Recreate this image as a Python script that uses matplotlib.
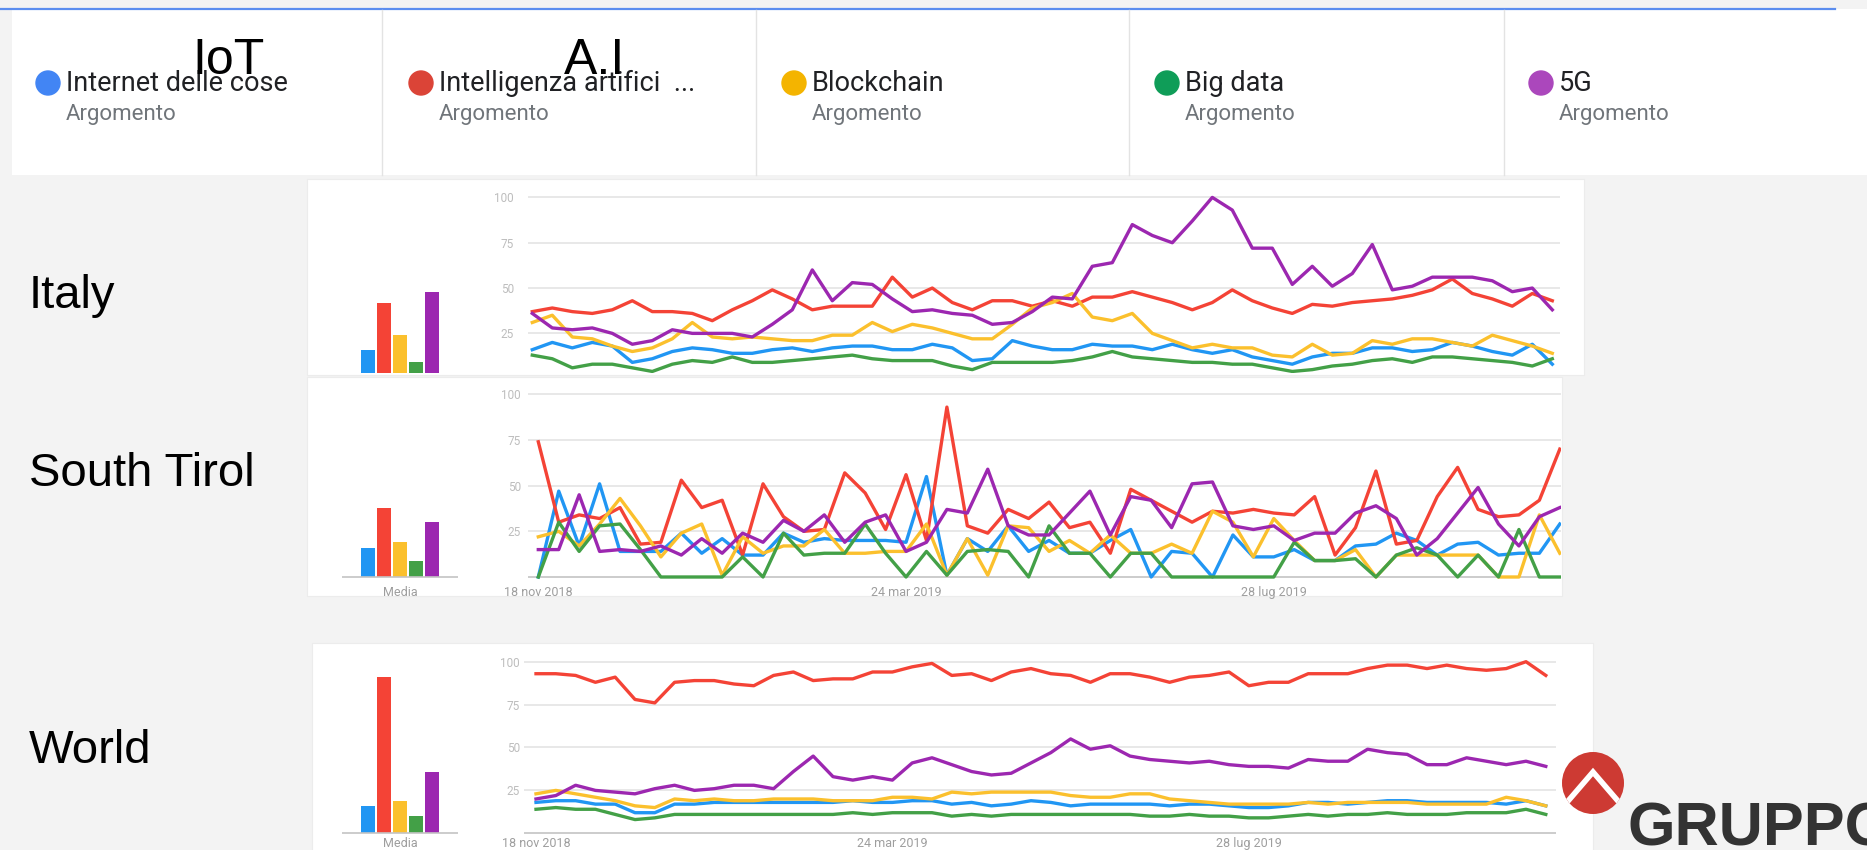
import matplotlib
matplotlib.use("Agg")
import matplotlib.pyplot as plt
from matplotlib.patches import Rectangle, Circle

W, H, DPI = 1867, 850, 100

# ---------------- data ----------------
topics = ["Internet delle cose", "Intelligenza artifici  ...", "Blockchain", "Big data", "5G"]
topic_kind = "Argomento"
legend_colors = ["#4285f4", "#db4437", "#f4b400", "#0f9d58", "#ab47bc"]
series_colors = ["#2196f3", "#f44336", "#fbc02d", "#43a047", "#9c27b0"]
regions = ["Italy", "South Tirol", "World"]
date_ticks = [0, 18, 36]
date_labels = ["18 nov 2018", "24 mar 2019", "28 lug 2019"]
y_ticks = [25, 50, 75, 100]
bar_label = "Media"

italy_iot = [16, 20, 17, 20, 18, 9, 11, 15, 17, 16, 14, 14, 16, 17, 15, 17, 18, 18, 16, 16, 19, 17, 10, 11, 21, 18,
             16, 16, 19, 18, 18, 16, 19, 16, 14, 16, 12, 10, 8, 12, 14, 14, 17, 17, 15, 16, 20, 18, 15, 13, 19, 8]
italy_ai = [37, 39, 37, 36, 38, 43, 37, 37, 36, 32, 38, 43, 49, 44, 38, 40, 40, 40, 56, 45, 50, 42, 38, 43, 43, 40,
            43, 40, 45, 45, 48, 45, 42, 38, 42, 49, 43, 39, 36, 41, 40, 42, 43, 44, 46, 49, 55, 47, 44, 40, 47, 43]
italy_blockchain = [31, 35, 23, 22, 18, 15, 17, 22, 31, 23, 22, 23, 22, 21, 21, 24, 24, 31, 26, 30, 28, 25, 22, 22, 30, 39,
                    42, 47, 34, 32, 36, 25, 21, 17, 19, 17, 17, 13, 12, 19, 13, 14, 21, 19, 22, 22, 20, 18, 24, 21, 18, 14]
italy_bigdata = [13, 11, 6, 8, 8, 6, 4, 8, 10, 9, 12, 9, 9, 10, 11, 12, 13, 11, 10, 10, 10, 7, 5, 9, 9, 9,
                 9, 10, 12, 15, 12, 11, 10, 9, 9, 8, 8, 6, 4, 5, 7, 8, 10, 11, 9, 12, 12, 11, 10, 9, 7, 11]
italy_5g = [36, 28, 27, 28, 25, 19, 21, 27, 25, 25, 25, 23, 30, 38, 60, 43, 53, 52, 44, 37, 38, 36, 35, 30, 31, 37,
            45, 44, 62, 64, 85, 79, 75, 87, 100, 93, 72, 72, 52, 62, 51, 58, 74, 49, 51, 56, 56, 56, 54, 48, 50, 38]
italy_avg = [16, 42, 24, 9, 48]

tirol_iot = [0, 47, 17, 51, 14, 14, 14, 24, 13, 21, 12, 12, 24, 19, 21, 20, 20, 20, 19, 55, 1, 21, 14, 28, 14,
             20, 13, 13, 20, 26, 0, 14, 13, 0, 23, 11, 11, 15, 9, 9, 17, 18, 24, 20, 12, 18, 19, 12, 13, 13, 29]
tirol_ai = [74, 30, 34, 32, 38, 18, 19, 53, 38, 42, 12, 51, 33, 25, 26, 57, 46, 26, 56, 20, 93, 28, 24, 37, 32,
            41, 27, 30, 13, 48, 42, 36, 30, 36, 35, 37, 35, 34, 44, 12, 27, 58, 18, 20, 44, 60, 37, 33, 34, 42, 70]
tirol_blockchain = [22, 25, 17, 29, 43, 28, 11, 24, 29, 1, 22, 13, 17, 17, 26, 13, 13, 14, 14, 29, 1, 21, 1, 28, 27,
                    14, 20, 13, 23, 13, 13, 18, 13, 36, 30, 11, 32, 20, 9, 9, 15, 0, 12, 12, 12, 12, 12, 0, 0, 34, 13]
tirol_bigdata = [0, 30, 14, 28, 29, 15, 0, 0, 0, 0, 11, 0, 24, 12, 13, 13, 29, 13, 0, 14, 1, 14, 15, 14, 0,
                 28, 13, 13, 0, 13, 13, 0, 0, 0, 0, 0, 0, 19, 9, 9, 10, 0, 12, 16, 12, 0, 12, 0, 26, 0, 0]
tirol_5g = [15, 15, 45, 14, 15, 14, 17, 12, 21, 13, 24, 19, 31, 25, 34, 19, 30, 34, 14, 19, 37, 35, 59, 28, 23,
            23, 35, 47, 23, 44, 42, 27, 51, 52, 28, 26, 28, 20, 24, 24, 35, 39, 32, 12, 21, 35, 49, 29, 17, 33, 38]
tirol_avg = [16, 38, 19, 9, 30]

world_iot = [18, 19, 19, 17, 17, 12, 12, 17, 17, 18, 18, 18, 18, 18, 18, 18, 19, 18, 18, 19, 19, 17, 18, 16, 17, 19,
             18, 16, 17, 17, 17, 17, 16, 17, 17, 16, 15, 15, 16, 18, 18, 17, 18, 19, 19, 18, 18, 18, 18, 17, 19, 16]
world_ai = [93, 93, 92, 88, 91, 78, 76, 88, 89, 89, 87, 86, 92, 94, 89, 90, 90, 94, 94, 97, 99, 92, 93, 89, 94, 96,
            93, 92, 88, 93, 93, 91, 88, 91, 92, 94, 86, 88, 88, 93, 93, 93, 96, 98, 98, 96, 98, 96, 95, 96, 100, 92]
world_blockchain = [23, 25, 23, 21, 19, 16, 15, 20, 19, 20, 19, 19, 20, 20, 20, 19, 19, 19, 21, 21, 20, 24, 23, 24, 24, 24,
                    24, 22, 21, 21, 23, 23, 20, 19, 18, 17, 17, 17, 17, 18, 17, 18, 18, 18, 18, 17, 17, 17, 17, 21, 19, 16]
world_bigdata = [14, 15, 14, 14, 11, 8, 9, 11, 11, 11, 11, 11, 11, 11, 11, 11, 12, 11, 12, 12, 12, 10, 11, 10, 11, 11,
                 11, 11, 11, 11, 11, 10, 10, 11, 10, 10, 9, 9, 10, 11, 10, 11, 11, 12, 11, 11, 11, 12, 12, 12, 14, 11]
world_5g = [20, 22, 28, 25, 24, 23, 26, 28, 25, 26, 28, 28, 26, 36, 45, 33, 31, 33, 31, 41, 44, 40, 36, 34, 35, 41,
            47, 55, 49, 51, 45, 43, 42, 41, 42, 40, 39, 39, 38, 43, 42, 42, 49, 47, 46, 40, 40, 44, 42, 40, 42, 39]
world_avg = [16, 91, 19, 10, 36]

italy_series = [italy_iot, italy_ai, italy_blockchain, italy_bigdata, italy_5g]
tirol_series = [tirol_iot, tirol_ai, tirol_blockchain, tirol_bigdata, tirol_5g]
world_series = [world_iot, world_ai, world_blockchain, world_bigdata, world_5g]

# ---------------- figure ----------------
fig = plt.figure(figsize=(W / DPI, H / DPI), dpi=DPI, facecolor="#f3f3f3")


def px_axes(x0, y0, x1, y1, **kw):
    return fig.add_axes([x0 / W, 1 - y1 / H, (x1 - x0) / W, (y1 - y0) / H], **kw)


deco = px_axes(0, 0, W, H)
deco.set_xlim(0, W)
deco.set_ylim(H, 0)
deco.axis("off")
deco.set_zorder(-5)

# header
deco.add_patch(Rectangle((12, 9), W - 12, 166, facecolor="white", edgecolor="none"))
deco.plot([0, 1835], [8.5, 8.5], color="#5b8def", lw=1.6)
for xd in [382, 756, 1129, 1504]:
    deco.plot([xd, xd], [10, 175], color="#e3e3e3", lw=1.0)
legend_x = [48, 421, 794, 1167, 1541]
for cx, name, col in zip(legend_x, topics, legend_colors):
    deco.add_patch(Circle((cx, 83), 12, color=col))
    deco.text(cx + 18, 91, name, fontsize=19.5, family="Roboto", color="#202124", va="baseline")
    deco.text(cx + 18, 120, topic_kind, fontsize=16, family="Roboto", color="#70757a", va="baseline")
deco.text(192, 74, "IoT", fontsize=36, family="Liberation Sans", color="black", va="baseline", zorder=6)
deco.text(564, 74, "A.I", fontsize=36, family="Liberation Sans", color="black", va="baseline", zorder=6)

# panel backgrounds
deco.add_patch(Rectangle((307, 179), 1277, 196, facecolor="white", edgecolor="#ececec", lw=0.8))
deco.add_patch(Rectangle((307, 377), 1255, 219, facecolor="white", edgecolor="#ececec", lw=0.8))
deco.add_patch(Rectangle((312, 643), 1281, 210, facecolor="white", edgecolor="#ececec", lw=0.8))

# region labels
for name, yc in zip(regions, [296, 474, 751]):
    deco.text(29, yc, name, fontsize=34, family="Liberation Sans", color="black", va="center")

# logo
logo = Circle((1593, 783), 31, facecolor="#cd3a33", edgecolor="none")
deco.add_patch(logo)
chev, = deco.plot([1556, 1593, 1630], [815, 772, 815], color="white", lw=4.0, solid_joinstyle="miter")
chev.set_clip_path(logo)
deco.text(1627, 846, "GRUPPO", fontsize=44, weight="bold", color="#333333",
          family=["Liberation Sans", "DejaVu Sans"], va="baseline")


def line_panel(box, idx0, step, zero, unit, series, dates, pad):
    x0, y0, x1, y1 = box
    ax = px_axes(x0, y0, x1, y1)
    ax.patch.set_alpha(0)
    ax.set_xlim((x0 - idx0) / step, (x1 - idx0) / step)
    ax.set_ylim((zero - y1) / unit, (zero - y0) / unit)
    for v in y_ticks:
        ax.axhline(v, color="#e4e4e4", lw=1.2, zorder=0)
    if dates:
        ax.axhline(0, color="#c4c4c4", lw=1.2, zorder=0)
    for vals, col in zip(series, series_colors):
        ax.plot(range(len(vals)), vals, color=col, lw=2.4, zorder=2)
    ax.set_yticks(y_ticks)
    ax.set_yticklabels([str(v) for v in y_ticks])
    ax.tick_params(axis="y", length=0, pad=pad, labelcolor="#bdbdbd", labelsize=8.5)
    if dates:
        ax.set_xticks(date_ticks)
        ax.set_xticklabels(date_labels)
        ax.tick_params(axis="x", length=0, pad=dates, labelcolor="#9e9e9e", labelsize=9)
    else:
        ax.set_xticks([])
    for s in ax.spines.values():
        s.set_visible(False)
    for t in ax.get_xticklabels() + ax.get_yticklabels():
        t.set_family("Roboto")
    return ax


def bar_panel(y0, y1, zero, unit, avg, baseline):
    x0, x1, c0, dx = 342, 458, 368, 16
    ax = px_axes(x0, y0, x1, y1)
    ax.patch.set_alpha(0)
    ax.set_xlim((x0 - c0) / dx, (x1 - c0) / dx)
    ax.set_ylim((zero - y1) / unit, (zero - y0) / unit)
    ax.bar(range(len(avg)), avg, width=0.9, color=series_colors, zorder=2)
    ax.set_yticks([])
    if baseline:
        ax.axhline(0, color="#c4c4c4", lw=1.2, zorder=3)
        ax.set_xticks([2])
        ax.set_xticklabels([bar_label], family="Roboto")
        ax.tick_params(axis="x", length=0, pad=baseline, labelcolor="#9e9e9e", labelsize=9)
    else:
        ax.set_xticks([])
    for s in ax.spines.values():
        s.set_visible(False)
    return ax


line_panel((528, 185, 1560, 373), 532.3, 20.0, 378.7, 1.813, italy_series, 0, 10)
bar_panel(185, 373, 378.7, 1.813, italy_avg, 0)

line_panel((524 + 4, 380, 1561, 580), 538.3, 20.43, 577.0, 1.827, tirol_series, 4, 5)
bar_panel(380, 580, 577.0, 1.827, tirol_avg, 4)

line_panel((524, 648, 1556, 836), 536.0, 19.8, 833.3, 1.716, world_series, 0.5, 3)
bar_panel(648, 836, 833.3, 1.716, world_avg, 0.5)

fig.savefig("out.png", dpi=DPI, facecolor=fig.get_facecolor())
